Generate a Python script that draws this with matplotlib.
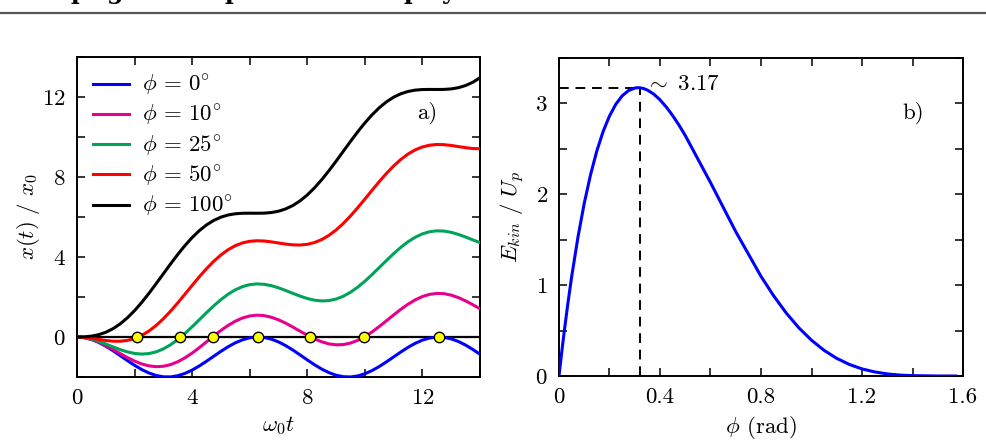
import matplotlib
matplotlib.use("Agg")
import matplotlib.pyplot as plt
from matplotlib.lines import Line2D
from matplotlib.ticker import MultipleLocator

plt.rcParams['font.family'] = 'serif'
plt.rcParams['font.serif'] = ['cmr10', 'DejaVu Serif']
plt.rcParams['mathtext.fontset'] = 'cm'
plt.rcParams['axes.formatter.use_mathtext'] = True
plt.rcParams['axes.unicode_minus'] = False

# ---------------- data: panel a) ----------------
t_values = [0, 0.25, 0.5, 0.75, 1.0, 1.25, 1.5, 1.75, 2.0, 2.25, 2.5, 2.75, 3.0, 3.25,
            3.5, 3.75, 4.0, 4.25, 4.5, 4.75, 5.0, 5.25, 5.5, 5.75, 6.0, 6.25, 6.5, 6.75,
            7.0, 7.25, 7.5, 7.75, 8.0, 8.25, 8.5, 8.75, 9.0, 9.25, 9.5, 9.75, 10.0, 10.25,
            10.5, 10.75, 11.0, 11.25, 11.5, 11.75, 12.0, 12.25, 12.5, 12.75, 13.0, 13.25,
            13.5, 13.75, 14.0]

x_phi0 = [0, -0.031, -0.122, -0.268, -0.460, -0.685, -0.929, -1.178, -1.416, -1.628,
          -1.801, -1.924, -1.990, -1.994, -1.936, -1.821, -1.654, -1.446, -1.211, -0.962,
          -0.716, -0.488, -0.291, -0.139, -0.040, -0.001, -0.023, -0.107, -0.246, -0.432,
          -0.653, -0.896, -1.146, -1.386, -1.602, -1.781, -1.911, -1.985, -1.997, -1.948,
          -1.839, -1.678, -1.476, -1.243, -0.996, -0.748, -0.517, -0.315, -0.156, -0.050,
          -0.002, -0.017, -0.093, -0.225, -0.405, -0.622, -0.863]
x_phi10 = [0, -0.030, -0.117, -0.252, -0.425, -0.622, -0.828, -1.027, -1.205, -1.348,
           -1.444, -1.484, -1.463, -1.381, -1.238, -1.042, -0.803, -0.531, -0.241, 0.051,
           0.329, 0.580, 0.791, 0.950, 1.051, 1.091, 1.068, 0.989, 0.859, 0.691,
           0.496, 0.290, 0.089, -0.092, -0.240, -0.343, -0.391, -0.379, -0.304, -0.169,
           0.020, 0.255, 0.523, 0.811, 1.103, 1.385, 1.640, 1.857, 2.023, 2.132,
           2.180, 2.166, 2.093, 1.970, 1.806, 1.614, 1.409]
x_phi25 = [0, -0.027, -0.102, -0.214, -0.350, -0.493, -0.630, -0.744, -0.823, -0.854,
           -0.829, -0.743, -0.595, -0.388, -0.128, 0.176, 0.512, 0.864, 1.218, 1.558,
           1.869, 2.140, 2.359, 2.519, 2.618, 2.655, 2.635, 2.566, 2.458, 2.325,
           2.181, 2.043, 1.925, 1.841, 1.803, 1.820, 1.897, 2.037, 2.237, 2.490,
           2.789, 3.121, 3.472, 3.826, 4.169, 4.485, 4.762, 4.988, 5.157, 5.264,
           5.309, 5.296, 5.233, 5.129, 4.999, 4.856, 4.716]
x_phi50 = [0, -0.018, -0.063, -0.120, -0.174, -0.210, -0.212, -0.171, -0.075, 0.081,
           0.299, 0.577, 0.911, 1.291, 1.705, 2.140, 2.581, 3.012, 3.418, 3.786,
           4.104, 4.366, 4.566, 4.705, 4.785, 4.813, 4.799, 4.757, 4.701, 4.646,
           4.607, 4.599, 4.634, 4.722, 4.870, 5.080, 5.350, 5.677, 6.051, 6.462,
           6.895, 7.336, 7.769, 8.179, 8.553, 8.878, 9.148, 9.357, 9.503, 9.590,
           9.625, 9.616, 9.577, 9.522, 9.465, 9.424, 9.411]
x_phi100 = [0, 0.008, 0.042, 0.114, 0.236, 0.415, 0.656, 0.959, 1.320, 1.732,
            2.185, 2.667, 3.161, 3.653, 4.129, 4.572, 4.972, 5.318, 5.605, 5.829,
            5.993, 6.101, 6.162, 6.187, 6.191, 6.188, 6.193, 6.223, 6.289, 6.404,
            6.576, 6.808, 7.103, 7.457, 7.863, 8.311, 8.789, 9.283, 9.777, 10.255,
            10.703, 11.109, 11.463, 11.758, 11.991, 12.162, 12.277, 12.344, 12.373, 12.379,
            12.376, 12.379, 12.405, 12.466, 12.574, 12.737, 12.962]

series_labels = [r'$\phi\,=\,0^{\circ}$', r'$\phi\,=\,10^{\circ}$', r'$\phi\,=\,25^{\circ}$',
                 r'$\phi\,=\,50^{\circ}$', r'$\phi\,=\,100^{\circ}$']
series_colors = ['#0000ff', '#e6008c', '#00a35a', '#ff0000', '#000000']

return_times = [2.09, 3.59, 4.71, 6.28, 8.11, 9.96, 12.57]
return_x = [0, 0, 0, 0, 0, 0, 0]

# ---------------- data: panel b) ----------------
phi_rad = [0, 0.01, 0.02, 0.035, 0.05, 0.075, 0.1, 0.125, 0.15, 0.175, 0.2, 0.225, 0.25,
           0.275, 0.3, 0.31, 0.32, 0.335, 0.35, 0.375, 0.4, 0.425, 0.45, 0.475, 0.5, 0.6,
           0.7, 0.8, 0.85, 0.9, 0.95, 1.0, 1.05, 1.1, 1.15, 1.2, 1.25, 1.3, 1.35, 1.4,
           1.5, 1.5708]
ekin = [0, 0.244, 0.474, 0.796, 1.091, 1.527, 1.901, 2.216, 2.479, 2.693, 2.862, 2.991,
        3.083, 3.141, 3.169, 3.173, 3.172, 3.164, 3.147, 3.103, 3.040, 2.960, 2.867, 2.762,
        2.647, 2.129, 1.589, 1.097, 0.883, 0.693, 0.530, 0.394, 0.282, 0.194, 0.127, 0.078,
        0.045, 0.023, 0.010, 0.004, 0.0001, 0]
peak_phi = 0.32
peak_e = 3.17

W, H = 987, 441
fig = plt.figure(figsize=(W / 100, H / 100), dpi=100)

FS = 16.5

def style(ax):
    ax.tick_params(which='both', direction='in', top=True, right=True,
                   length=6, width=1.1, labelsize=FS, pad=8)
    for sp in ax.spines.values():
        sp.set_linewidth(1.4)

# header rule and the cut-off heading above it
fig.add_artist(Line2D([0, 1], [1 - 12.5 / H, 1 - 12.5 / H], transform=fig.transFigure,
                      color='#555555', lw=1.6))
for ch, px in zip(['p', 'g', 'p', 'p', 'y'], [79, 115, 233, 412, 448]):
    fig.text(px / W, 1 + 0.5 / H, ch, fontsize=17, fontweight='bold', family='DejaVu Serif',
             ha='center', va='baseline')

# ---------------- panel a ----------------
ax1 = fig.add_axes([77 / W, 1 - 377 / H, (480 - 77) / W, (377 - 57) / H])
all_x = [x_phi0, x_phi10, x_phi25, x_phi50, x_phi100]
ax1.axhline(0, color='black', lw=1.6, zorder=2)
for xs, lab, col in zip(all_x, series_labels, series_colors):
    ax1.plot(t_values, xs, color=col, lw=2.2, label=lab, zorder=3)
ax1.plot(return_times, return_x, 'o', ms=7.5, mfc='#ffff00', mec='black', mew=1.0, zorder=5)
ax1.set_xlim(0, 14)
ax1.set_ylim(-2, 14)
ax1.xaxis.set_major_locator(MultipleLocator(4))
ax1.xaxis.set_minor_locator(MultipleLocator(2))
ax1.yaxis.set_major_locator(MultipleLocator(4))
ax1.yaxis.set_minor_locator(MultipleLocator(2))
style(ax1)
ax1.set_xlabel(r'$\omega_0 t$', fontsize=FS, labelpad=5)
ax1.set_ylabel(r'$x(t)\ /\ x_0$', fontsize=FS, labelpad=0)
ax1.text(0.868, 0.825, 'a)', transform=ax1.transAxes, fontsize=FS, ha='center', va='center')
ax1.legend(loc='upper left', frameon=False, fontsize=FS, handlelength=1.55,
           handletextpad=0.6, labelspacing=0.22, borderaxespad=0.3,
           bbox_to_anchor=(0.0, 1.0))

# ---------------- panel b ----------------
ax2 = fig.add_axes([559 / W, 1 - 376 / H, (963 - 559) / W, (376 - 58) / H])
ax2.plot(phi_rad, ekin, color='#0000ff', lw=2.2, zorder=3)
ax2.plot([0, peak_phi], [peak_e, peak_e], color='black', lw=1.4, dashes=(5, 3.5))
ax2.plot([peak_phi, peak_phi], [0, peak_e], color='black', lw=1.4, dashes=(5, 3.5))
ax2.text(peak_phi + 0.02, peak_e + 0.04, r'$\sim\ 3.17$', fontsize=FS, ha='left', va='center')
ax2.set_xlim(0, 1.6)
ax2.set_ylim(0, 3.5)
ax2.xaxis.set_minor_locator(MultipleLocator(0.2))
ax2.yaxis.set_major_locator(MultipleLocator(1))
ax2.yaxis.set_minor_locator(MultipleLocator(0.5))
ax2.set_xticks([0, 0.4, 0.8, 1.2, 1.6])
ax2.set_xticklabels(['0', '0.4', '0.8', '1.2', '1.6'])
style(ax2)
ax2.set_xlabel(r'$\phi$ (rad)', fontsize=FS, labelpad=5)
ax2.set_ylabel(r'$E_{kin}\ /\ U_p$', fontsize=FS, labelpad=6)
ax2.text(0.876, 0.827, 'b)', transform=ax2.transAxes, fontsize=FS, ha='center', va='center')

fig.savefig('out.png', dpi=100)
